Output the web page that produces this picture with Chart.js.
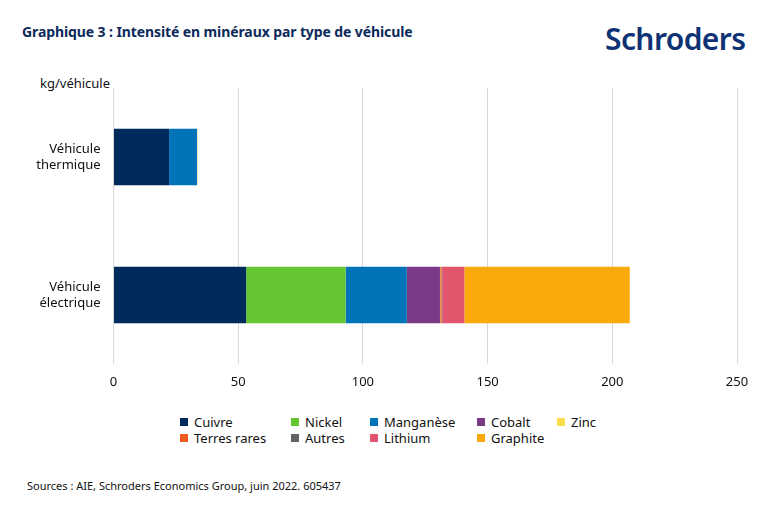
<!DOCTYPE html>
<html>
<head>
<meta charset="utf-8">
<script src="https://cdn.jsdelivr.net/npm/chart.js@4.4.1/dist/chart.umd.min.js"></script>
<style>
  html, body { margin:0; padding:0; background:#fff; }
  body { width:770px; height:513px; position:relative; overflow:hidden; font-family:"Noto Sans", "Open Sans", sans-serif; }
  #title { position:absolute; left:22px; top:22px; font-size:14px; font-weight:bold; color:#0b2a5b; letter-spacing:-0.1px; }
  #logo { position:absolute; left:605px; top:18px; font-size:30px; font-weight:600; color:#0f3275; letter-spacing:-0.6px; }
  #unit { position:absolute; left:40px; top:74px; font-size:13px; color:#111; }
  #wrap { position:absolute; left:0; top:0; width:770px; height:400px; }
  #legend { position:absolute; left:0; top:413px; width:770px; font-size:13px; color:#111; }
  .li { position:absolute; white-space:nowrap; }
  .sw { display:inline-block; width:8px; height:8px; margin-right:6px; vertical-align:1px; }
  #src { position:absolute; left:27px; top:478px; font-size:11px; color:#111; }
</style>
</head>
<body>
<div id="title">Graphique 3 : Intensité en minéraux par type de véhicule</div>
<div id="logo">Schroders</div>
<div id="unit">kg/véhicule</div>
<div id="wrap"><canvas id="c"></canvas></div>
<div id="legend"></div>
<div id="src">Sources : AIE, Schroders Economics Group, juin 2022. 605437</div>
<script>
const categories = [["Véhicule", "thermique"], ["Véhicule", "électrique"]];
const seriesNames = ["Cuivre", "Nickel", "Manganèse", "Cobalt", "Zinc", "Terres rares", "Autres", "Lithium", "Graphite"];
const cuivre     = [22.3, 53.2];
const nickel     = [0, 39.9];
const manganese  = [11.2, 24.5];
const cobalt     = [0, 13.3];
const zinc       = [0.1, 0.1];
const terresRares= [0, 0.5];
const autres     = [0, 0.3];
const lithium    = [0, 8.9];
const graphite   = [0, 66.3];
const xTicks = [0, 50, 100, 150, 200, 250];

const colors = ["#002a5c", "#65c634", "#0073b9", "#7b3a88", "#fcdc4c", "#f05a1e", "#636363", "#e2556d", "#f9a90a"];
const values = [cuivre, nickel, manganese, cobalt, zinc, terresRares, autres, lithium, graphite];

const datasets = seriesNames.map((n, i) => ({
  label: n, data: values[i], backgroundColor: colors[i],
  borderWidth: 0, barPercentage: 0.41, categoryPercentage: 1.0
}));

new Chart(document.getElementById('c'), {
  type: 'bar',
  data: { labels: categories, datasets },
  options: {
    indexAxis: 'y',
    responsive: true, maintainAspectRatio: false, animation: false,
    layout: { padding: { top: 88, right: 33, left: 0, bottom: 0 } },
    plugins: { legend: { display: false }, tooltip: { enabled: false } },
    scales: {
      x: {
        stacked: true, min: 0, max: 250,
        afterBuildTicks: s => { s.ticks = xTicks.map(v => ({ value: v })); },
        afterFit: s => { s.height = 36; },
        grid: { color: "#d9d9d9", drawTicks: false, lineWidth: 1 },
        border: { display: false },
        ticks: { color: "#111", font: { family: "Noto Sans", size: 13 }, padding: 10 }
      },
      y: {
        stacked: true,
        afterFit: s => { s.width = 113.5; },
        grid: { display: false, drawTicks: false },
        border: { display: false },
        ticks: { color: "#111", font: { family: "Noto Sans", size: 13, lineHeight: 1.2 }, padding: 13 }
      }
    }
  }
});

const legendPos = [
  [180, 0], [291, 0], [370, 0], [477, 0], [557, 0],
  [180, 16], [291, 16], [370, 16], [477, 16]
];
const order = ["Cuivre", "Nickel", "Manganèse", "Cobalt", "Zinc", "Terres rares", "Autres", "Lithium", "Graphite"];
const lg = document.getElementById('legend');
order.forEach((n, k) => {
  const i = seriesNames.indexOf(n);
  const d = document.createElement('div');
  d.className = 'li';
  d.style.left = legendPos[k][0] + 'px';
  d.style.top = legendPos[k][1] + 'px';
  d.innerHTML = '<span class="sw" style="background:' + colors[i] + '"></span>' + n;
  lg.appendChild(d);
});
</script>
</body>
</html>
